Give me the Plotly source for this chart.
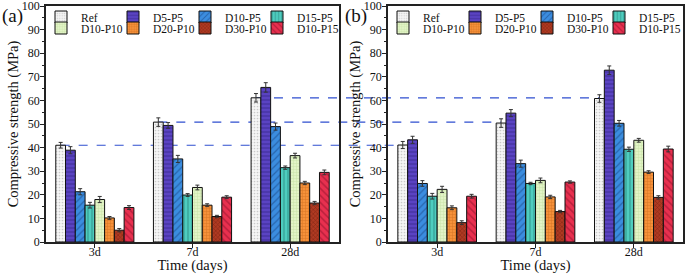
import plotly.graph_objects as go

# ---------------- data ----------------
days = ["3d", "7d", "28d"]
series = ["Ref", "D5-P5", "D10-P5", "D15-P5", "D10-P10", "D20-P10", "D30-P10", "D10-P15"]

# panel (a) compressive strength (MPa)
a_ref = [41.0, 50.8, 61.1]
a_d5p5 = [38.9, 49.4, 65.5]
a_d10p5 = [21.3, 35.2, 48.9]
a_d15p5 = [15.6, 19.9, 31.5]
a_d10p10 = [18.0, 23.1, 36.6]
a_d20p10 = [10.2, 15.6, 25.0]
a_d30p10 = [5.0, 10.8, 16.5]
a_d10p15 = [14.6, 19.0, 29.5]

# panel (a) error bars
a_ref_err = [1.2, 1.8, 1.8]
a_d5p5_err = [1.5, 1.2, 2.0]
a_d10p5_err = [1.3, 1.5, 1.5]
a_d15p5_err = [1.2, 0.6, 0.7]
a_d10p10_err = [1.3, 1.0, 1.0]
a_d20p10_err = [0.6, 0.6, 0.7]
a_d30p10_err = [0.7, 0.5, 0.7]
a_d10p15_err = [0.8, 0.6, 1.0]

# panel (b) compressive strength (MPa)
b_ref = [41.1, 50.4, 60.8]
b_d5p5 = [43.3, 54.6, 72.8]
b_d10p5 = [24.8, 33.2, 50.3]
b_d15p5 = [19.4, 24.8, 39.3]
b_d10p10 = [22.3, 26.1, 43.1]
b_d20p10 = [14.5, 19.1, 29.6]
b_d30p10 = [8.2, 12.9, 18.9]
b_d10p15 = [19.4, 25.4, 39.4]

# panel (b) error bars
b_ref_err = [1.5, 1.8, 1.6]
b_d5p5_err = [1.5, 1.5, 1.8]
b_d10p5_err = [1.2, 1.5, 1.2]
b_d15p5_err = [1.2, 0.5, 0.9]
b_d10p10_err = [1.3, 1.0, 0.8]
b_d20p10_err = [0.8, 0.7, 0.6]
b_d30p10_err = [0.8, 0.5, 0.7]
b_d10p15_err = [0.8, 0.5, 1.2]

# ---------------- styles ----------------
bg_colors = ["#f5f5f5", "#5a43c2", "#3b8ddf", "#4ecdbf", "#e2f4c6", "#f6913a", "#b03a22", "#e8304f"]
fg_colors = ["#a0a0a0", "#2a1b78", "#173f7c", "#1d6d66", "#aed08a", "#b85810", "#5a1408", "#8a0f2a"]
shapes_p = [".", "-", "/", "|", "+", "+", "x", "\\"]
sizes_p = [3, 4, 5, 4, 3, 3, 3, 5]
solid_p = [0.25, 0.3, 0.25, 0.3, 0.3, 0.3, 0.35, 0.3]

FONT = "Liberation Serif, Times New Roman, serif"
W, H = 685, 274
dom_a = [46 / W, 339 / W]
dom_b = [388 / W, 683 / W]
ydom = [1 - 242 / H, 1 - 6 / H]

vals_a = [a_ref, a_d5p5, a_d10p5, a_d15p5, a_d10p10, a_d20p10, a_d30p10, a_d10p15]
errs_a = [a_ref_err, a_d5p5_err, a_d10p5_err, a_d15p5_err, a_d10p10_err, a_d20p10_err, a_d30p10_err, a_d10p15_err]
vals_b = [b_ref, b_d5p5, b_d10p5, b_d15p5, b_d10p10, b_d20p10, b_d30p10, b_d10p15]
errs_b = [b_ref_err, b_d5p5_err, b_d10p5_err, b_d15p5_err, b_d10p10_err, b_d20p10_err, b_d30p10_err, b_d10p15_err]

fig = go.Figure()

for panel, (vals, errs, xa, ya, lg1, lg2) in enumerate([
    (vals_a, errs_a, "x", "y", "legend", "legend2"),
    (vals_b, errs_b, "x2", "y2", "legend3", "legend4"),
]):
    for i, name in enumerate(series):
        fig.add_trace(go.Bar(
            x=days, y=vals[i], name=name, xaxis=xa, yaxis=ya,
            legend=lg1 if i < 4 else lg2,
            legendwidth=48 if i % 4 == 3 else None,
            offsetgroup=str(i),
            marker=dict(
                color=bg_colors[i],
                line=dict(color="#111111", width=1),
                pattern=dict(shape=shapes_p[i], fgcolor=fg_colors[i], bgcolor=bg_colors[i],
                             size=sizes_p[i], solidity=solid_p[i], fillmode="overlay"),
            ),
            error_y=dict(type="data", array=errs[i], color="#333333", thickness=1, width=2),
        ))

axis_common = dict(showline=True, linecolor="#222222", linewidth=1.5, mirror=True, automargin=False,
                   showgrid=False, zeroline=False, tickfont=dict(family=FONT, size=12, color="#111"),
                   tickcolor="#222222")

xcommon = dict(axis_common, type="category", range=[-0.5, 2.5], ticks="outside", ticklen=4,
               ticklabelstandoff=-6,
               title=dict(text="Time (days)", font=dict(family=FONT, size=14.5, color="#111"), standoff=3))
ycommon = dict(axis_common, range=[0, 100], dtick=10, ticks="outside", ticklen=4,
               ticklabeloverflow="allow", ticklabelstandoff=-2,
               minor=dict(dtick=5, ticks="outside", ticklen=2, tickcolor="#222222"),
               title=dict(text="Compressive strength (MPa)", font=dict(family=FONT, size=14.5, color="#111"),
                          standoff=0))

legend_common = dict(orientation="h", xanchor="left", yanchor="top", bgcolor="rgba(0,0,0,0)",
                     font=dict(family=FONT, size=11.5, color="#111"), itemwidth=30, entrywidth=27,
                     entrywidthmode="pixels", itemclick=False, itemdoubleclick=False)

fig.update_layout(
    template="none",
    width=W, height=H, margin=dict(l=0, r=0, t=0, b=0, autoexpand=False),
    paper_bgcolor="white", plot_bgcolor="rgba(0,0,0,0)",
    barmode="group", bargap=0.2, bargroupgap=0,
    xaxis=dict(xcommon, domain=dom_a, anchor="y"),
    yaxis=dict(ycommon, domain=ydom, anchor="x"),
    xaxis2=dict(xcommon, domain=dom_b, anchor="y2"),
    yaxis2=dict(ycommon, domain=ydom, anchor="x2"),
    legend=dict(legend_common, x=41 / W, y=1 - 2.5 / H),
    legend2=dict(legend_common, x=41 / W, y=1 - 13.5 / H),
    legend3=dict(legend_common, x=383 / W, y=1 - 2.5 / H),
    legend4=dict(legend_common, x=383 / W, y=1 - 13.5 / H),
    showlegend=True,
)


def to_paper(dom, xval):
    return dom[0] + (xval + 0.5) / 3 * (dom[1] - dom[0])


# dashed reference lines from Ref bars in (a) to Ref bars in (b)
ref_off = -0.4 + 0.05
for i in range(len(days)):
    fig.add_shape(type="line", xref="paper", yref="y", layer="below",
                  x0=to_paper(dom_a, i + ref_off), x1=to_paper(dom_b, i + ref_off),
                  y0=a_ref[i], y1=a_ref[i],
                  line=dict(color="#2f4fd0", width=1.2, dash="dash"))

fig.add_annotation(text="(a)", xref="paper", yref="paper", x=0, y=1 - 16 / H,
                   xanchor="left", yanchor="middle", showarrow=False,
                   font=dict(family=FONT, size=19, color="#111"))
fig.add_annotation(text="(b)", xref="paper", yref="paper", x=343 / W, y=1 - 16 / H,
                   xanchor="left", yanchor="middle", showarrow=False,
                   font=dict(family=FONT, size=19, color="#111"))

# remove the default 8px page margin so the 685x274 figure fills the window exactly
fig.write_html("out.html", config={"displayModeBar": False},
               post_script="document.body.style.margin='0px';document.body.style.overflow='hidden';")
